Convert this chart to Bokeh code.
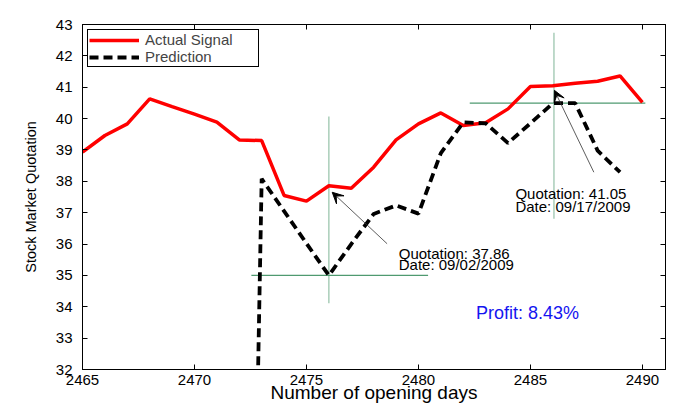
from bokeh.plotting import figure
from bokeh.models import (Range1d, LinearAxis, SingleIntervalTicker, Label,
                          Arrow, VeeHead, CustomJSTickFormatter)
from bokeh.embed import file_html
from bokeh.resources import INLINE

# ---- data ----
days_actual = list(range(2465, 2491))
actual = [38.93, 39.46, 39.83, 40.63, 40.38, 40.14, 39.89, 39.32, 39.30, 37.55,
          37.37, 37.86, 37.78, 38.45, 39.32, 39.83, 40.18, 39.78, 39.87, 40.31,
          41.02, 41.05, 41.13, 41.19, 41.36, 40.52]

days_pred = list(range(2472, 2490))
prediction = [0.0, 38.08, 37.05, 36.02, 35.00, 36.00, 36.96, 37.23, 36.97, 38.90,
              39.88, 39.85, 39.22, 39.85, 40.49, 40.49, 38.98, 38.29]

# crosshair markers (buy / sell)
vline_x = [2476.0, 2486.05]
vline_y0 = [34.11, 36.81]
vline_y1 = [40.07, 42.74]
hline_y = [35.0, 40.49]
hline_x0 = [2472.54, 2482.29]
hline_x1 = [2480.43, 2490.13]

# annotation arrows
arrow_tail_x = [2478.6, 2487.83]
arrow_tail_y = [36.01, 38.29]
arrow_head_x = [2476.15, 2486.07]
arrow_head_y = [37.65, 40.90]

ann_x = [2479.12, 2484.33]
ann_y1 = [35.71, 37.60]
ann_y2 = [35.34, 37.20]
ann_quote = ["Quotation: 37.86", "Quotation: 41.05"]
ann_date = ["Date: 09/02/2009", "Date: 09/17/2009"]

profit_x, profit_y, profit_text = 2484.87, 33.79, "Profit: 8.43%"

x_start, x_end = 2465, 2491.03
y_start, y_end = 32, 43

FONT = "Liberation Sans"

p = figure(width=690, height=412, output_backend="svg", toolbar_location=None,
           x_range=Range1d(x_start, x_end), y_range=Range1d(y_start, y_end),
           min_border_left=82, min_border_right=25, min_border_top=24,
           min_border_bottom=43)
p.grid.visible = False
p.outline_line_color = "black"
p.outline_line_width = 1
p.background_fill_color = "white"
p.border_fill_color = "white"

p.xaxis.ticker = SingleIntervalTicker(interval=5)
p.yaxis.ticker = SingleIntervalTicker(interval=1)

for ax in (p.xaxis[0], p.yaxis[0]):
    ax.major_tick_in = 5
    ax.major_tick_out = 0
    ax.minor_tick_line_color = None
    ax.axis_line_color = "black"
    ax.major_tick_line_color = "black"
    ax.major_label_text_font = FONT
    ax.major_label_text_font_size = "15px"
    ax.major_label_text_color = "black"
    ax.axis_label_text_font = FONT
    ax.axis_label_text_font_style = "normal"
    ax.axis_label_text_color = "black"

p.xaxis.axis_label = "Number of opening days"
p.xaxis.axis_label_text_font_size = "19px"
p.xaxis.major_label_standoff = 1
p.xaxis.axis_label_standoff = -6
p.yaxis.axis_label = "Stock Market Quotation"
p.yaxis.axis_label_text_font_size = "14.5px"
p.yaxis.major_label_standoff = 6
p.yaxis.axis_label_standoff = 14

# mirror axes (ticks only, no labels)
blank = CustomJSTickFormatter(code="return '';")
top = LinearAxis(ticker=SingleIntervalTicker(interval=5), major_tick_in=5, major_tick_out=0,
                 minor_tick_line_color=None, formatter=blank, axis_line_color="black")
right = LinearAxis(ticker=SingleIntervalTicker(interval=1), major_tick_in=5, major_tick_out=0,
                   minor_tick_line_color=None, formatter=blank, axis_line_color="black")
p.add_layout(top, "above")
p.add_layout(right, "right")

# crosshairs
p.segment(x0=vline_x, y0=vline_y0, x1=vline_x, y1=vline_y1,
          line_color="#9cc6ae", line_width=1.3)
p.segment(x0=hline_x0, y0=hline_y, x1=hline_x1, y1=hline_y,
          line_color="#4f9a70", line_width=1.3)

# series
p.line(days_actual, actual, line_color="#ff0000", line_width=3.5,
       legend_label="Actual Signal")
p.line(days_pred, prediction, line_color="black", line_width=3.8,
       line_dash="9 5", legend_label="Prediction")

# arrows
for tx, ty, hx, hy in zip(arrow_tail_x, arrow_tail_y, arrow_head_x, arrow_head_y):
    p.add_layout(Arrow(x_start=tx, y_start=ty, x_end=hx, y_end=hy,
                       line_color="#333333", line_width=0.8,
                       end=VeeHead(size=11, fill_color="black", line_color="black",
                                   line_width=1)))

for x, y1, y2, q, d in zip(ann_x, ann_y1, ann_y2, ann_quote, ann_date):
    p.add_layout(Label(x=x, y=y1, text=q, text_font=FONT, text_font_size="15px",
                       text_baseline="middle", text_align="left", text_color="black"))
    p.add_layout(Label(x=x, y=y2, text=d, text_font=FONT, text_font_size="15px",
                       text_baseline="middle", text_align="left", text_color="black"))

p.add_layout(Label(x=profit_x, y=profit_y, text=profit_text, text_font=FONT,
                   text_font_size="18px", text_baseline="middle", text_align="center",
                   text_color="#1414f0"))

# legend
lg = p.legend[0]
lg.location = "top_left"
lg.margin = 5
lg.padding = 1
lg.spacing = 0
lg.label_height = 14
lg.glyph_height = 14
lg.glyph_width = 50
lg.label_width = 112
lg.label_standoff = 6
lg.label_text_font = FONT
lg.label_text_font_size = "15px"
lg.border_line_color = "black"
lg.border_line_alpha = 1.0
lg.border_line_width = 1.5
lg.background_fill_color = "white"
lg.background_fill_alpha = 1

open("out.html", "w").write(file_html(p, INLINE))
